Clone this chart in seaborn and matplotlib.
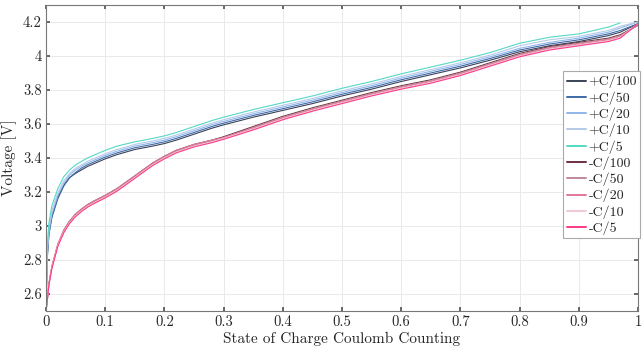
import numpy as np
import pandas as pd
import matplotlib
matplotlib.use("Agg")
import matplotlib.pyplot as plt
from matplotlib.ticker import FuncFormatter, MultipleLocator
import seaborn as sns

soc = [0, 0.002, 0.005, 0.01, 0.02, 0.03, 0.04, 0.05, 0.06, 0.07, 0.08, 0.10, 0.12, 0.15,
       0.18, 0.20, 0.22, 0.25, 0.28, 0.30, 0.35, 0.40, 0.45, 0.50, 0.55, 0.60, 0.65,
       0.70, 0.75, 0.80, 0.85, 0.90, 0.95, 0.97, 1.0]

labels = ["+C/100", "+C/50", "+C/20", "+C/10", "+C/5",
          "-C/100", "-C/50", "-C/20", "-C/10", "-C/5"]

v_chg_100 = [2.50, 2.82, 2.96, 3.06, 3.17, 3.24, 3.285, 3.31, 3.33, 3.35, 3.365, 3.395, 3.42, 3.45,
             3.47, 3.485, 3.505, 3.54, 3.575, 3.595, 3.64, 3.68, 3.72, 3.765, 3.805, 3.85, 3.89,
             3.93, 3.975, 4.025, 4.06, 4.085, 4.12, 4.14, 4.19]
v_chg_50 = [2.50, 2.80, 2.95, 3.05, 3.16, 3.235, 3.285, 3.315, 3.34, 3.36, 3.375, 3.405, 3.43, 3.46,
            3.48, 3.495, 3.515, 3.55, 3.585, 3.605, 3.65, 3.69, 3.73, 3.775, 3.815, 3.86, 3.90,
            3.94, 3.985, 4.035, 4.07, 4.095, 4.13, 4.15, 4.19]
v_chg_20 = [2.50, 2.83, 2.97, 3.07, 3.18, 3.25, 3.30, 3.33, 3.35, 3.37, 3.385, 3.415, 3.44, 3.47,
            3.49, 3.505, 3.525, 3.56, 3.595, 3.615, 3.66, 3.70, 3.74, 3.785, 3.825, 3.87, 3.91,
            3.95, 3.995, 4.045, 4.08, 4.105, 4.14, 4.165, 4.20]
v_chg_10 = [2.50, 2.85, 2.99, 3.09, 3.195, 3.265, 3.31, 3.34, 3.36, 3.38, 3.395, 3.425, 3.45, 3.48,
            3.50, 3.515, 3.535, 3.57, 3.605, 3.625, 3.67, 3.71, 3.75, 3.795, 3.835, 3.88, 3.92,
            3.96, 4.005, 4.06, 4.095, 4.115, 4.15, 4.175, 4.20]
v_chg_5 = [2.50, 2.88, 3.02, 3.12, 3.22, 3.29, 3.33, 3.36, 3.38, 3.40, 3.415, 3.445, 3.47, 3.495,
           3.515, 3.53, 3.55, 3.585, 3.62, 3.64, 3.685, 3.725, 3.765, 3.81, 3.85, 3.895, 3.935,
           3.975, 4.02, 4.075, 4.11, 4.13, 4.17, 4.195, np.nan]

v_dis_100 = [2.50, 2.56, 2.66, 2.76, 2.89, 2.975, 3.03, 3.07, 3.10, 3.125, 3.145, 3.18, 3.22, 3.295,
             3.37, 3.41, 3.445, 3.48, 3.505, 3.525, 3.585, 3.645, 3.695, 3.74, 3.785, 3.825, 3.86,
             3.905, 3.96, 4.015, 4.055, 4.08, 4.105, 4.125, 4.18]
v_dis_50 = [2.50, 2.56, 2.66, 2.76, 2.89, 2.97, 3.025, 3.065, 3.095, 3.12, 3.14, 3.175, 3.215, 3.29,
            3.365, 3.405, 3.44, 3.475, 3.50, 3.52, 3.58, 3.64, 3.69, 3.735, 3.78, 3.82, 3.855,
            3.90, 3.955, 4.01, 4.05, 4.075, 4.10, 4.12, 4.18]
v_dis_20 = [2.50, 2.56, 2.665, 2.765, 2.895, 2.975, 3.03, 3.07, 3.10, 3.125, 3.145, 3.18, 3.22, 3.295,
            3.37, 3.41, 3.445, 3.48, 3.505, 3.52, 3.575, 3.635, 3.685, 3.73, 3.775, 3.815, 3.85,
            3.895, 3.95, 4.005, 4.045, 4.07, 4.095, 4.115, 4.185]
v_dis_10 = [2.50, 2.555, 2.655, 2.755, 2.885, 2.965, 3.02, 3.06, 3.09, 3.115, 3.135, 3.17, 3.21, 3.285,
            3.36, 3.40, 3.435, 3.47, 3.495, 3.515, 3.57, 3.63, 3.68, 3.725, 3.77, 3.81, 3.845,
            3.89, 3.945, 4.0, 4.04, 4.065, 4.09, 4.11, 4.19]
v_dis_5 = [2.50, 2.555, 2.655, 2.75, 2.88, 2.96, 3.015, 3.055, 3.085, 3.11, 3.13, 3.165, 3.205, 3.28,
           3.355, 3.395, 3.43, 3.465, 3.49, 3.51, 3.565, 3.625, 3.675, 3.72, 3.765, 3.805, 3.84,
           3.885, 3.94, 3.995, 4.035, 4.06, 4.085, 4.105, 4.19]

series = [v_chg_100, v_chg_50, v_chg_20, v_chg_10, v_chg_5,
          v_dis_100, v_dis_50, v_dis_20, v_dis_10, v_dis_5]

colors = ["#3a4258", "#3f6aa8", "#8fb6ea", "#b4cae8", "#55d8c6",
          "#6a3040", "#c08898", "#e07898", "#f0c8d6", "#ff3a88"]

rows = []
for lab, vals in zip(labels, series):
    for s, v in zip(soc, vals):
        rows.append({"SOC": s, "V": v, "Run": lab})
df = pd.DataFrame(rows).dropna()

sns.set_theme(style="whitegrid")
plt.rcParams["font.family"] = "serif"
plt.rcParams["font.serif"] = ["cmr10", "DejaVu Serif"]
plt.rcParams["mathtext.fontset"] = "cm"
plt.rcParams["axes.formatter.use_mathtext"] = True

fig = plt.figure(figsize=(6.44, 3.52), dpi=100)
ax = fig.add_axes([46 / 644, 41 / 352, 592 / 644, 306 / 352])

sns.lineplot(data=df, x="SOC", y="V", hue="Run", hue_order=labels,
             palette=dict(zip(labels, colors)), sort=False, estimator=None,
             linewidth=0.8, ax=ax)

ax.set_xlim(0, 1)
ax.set_ylim(2.5, 4.3)
ax.xaxis.set_major_locator(MultipleLocator(0.1))
ax.yaxis.set_major_locator(MultipleLocator(0.2))
fmt = FuncFormatter(lambda v, p: "%g" % round(v, 3))
ax.xaxis.set_major_formatter(fmt)
ax.yaxis.set_major_formatter(fmt)
ax.set_xlabel("State of Charge Coulomb Counting", fontsize=11, labelpad=2)
ax.set_ylabel("Voltage [V]", fontsize=11, labelpad=4)
ax.tick_params(axis="both", which="major", labelsize=10.5, direction="in",
               length=3, color="#555555", top=True, right=True, bottom=True, left=True,
               pad=3)
ax.grid(True, color="#e6e6e6", linewidth=0.6)
for sp in ax.spines.values():
    sp.set_color("#777777")
    sp.set_linewidth(0.8)
ax.set_facecolor("white")

leg = ax.legend(loc="center right", bbox_to_anchor=(1.004, 0.51), fontsize=10,
                frameon=True, fancybox=False, framealpha=1, edgecolor="#aaaaaa",
                handlelength=1.4, handletextpad=0.15, labelspacing=0.2,
                borderpad=0.25, borderaxespad=0.0)
leg.get_frame().set_linewidth(0.8)
for ln in leg.get_lines():
    ln.set_linewidth(1.4)

fig.savefig("out.png", dpi=100)
